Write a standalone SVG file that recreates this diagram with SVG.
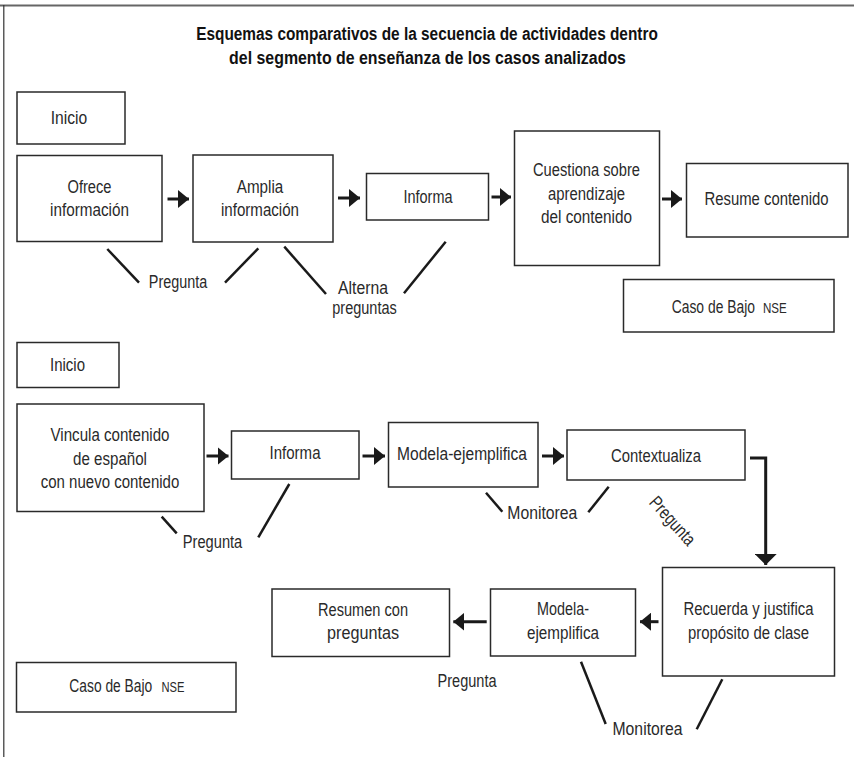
<svg xmlns="http://www.w3.org/2000/svg" width="854" height="757" viewBox="0 0 854 757">
<style>
text{font-family:"Liberation Sans",Arial,sans-serif;font-size:18.5px;fill:#2a2a2a;text-anchor:middle}
.title{font-weight:bold;font-size:18.5px;fill:#111}
.st{text-anchor:start}
.box{fill:#fff;stroke:#2a2a2a;stroke-width:1.5}
.arrow{stroke:#1a1a1a;stroke-width:3;fill:none}
.tie{stroke:#1a1a1a;stroke-width:2.5;fill:none}
.sc{font-size:14.5px;text-anchor:start}
</style>
<defs>
<marker id="ah" markerUnits="userSpaceOnUse" markerWidth="12" markerHeight="18" refX="11" refY="9" orient="auto">
<path d="M0,0 L11,9 L0,18 z" fill="#1a1a1a"/>
</marker>
<marker id="ahd" markerUnits="userSpaceOnUse" markerWidth="12" markerHeight="22" refX="11" refY="11" orient="auto">
<path d="M0,0 L11,11 L0,22 z" fill="#1a1a1a"/>
</marker>
</defs>
<rect width="854" height="757" fill="#fff"/>
<line x1="0" y1="5.5" x2="854" y2="5.5" stroke="#666" stroke-width="2"/>
<line x1="3.8" y1="5" x2="3.8" y2="757" stroke="#333" stroke-width="1.2"/>
<text class="title" transform="translate(427,39.5) scale(.82,1)" textLength="563" lengthAdjust="spacingAndGlyphs">Esquemas comparativos de la secuencia de actividades dentro</text>
<text class="title" transform="translate(427.5,63.5) scale(.82,1)" textLength="484" lengthAdjust="spacingAndGlyphs">del segmento de enseñanza de los casos analizados</text>

<g id="inicio1"><rect class="box" x="17" y="92" width="108" height="52"/><text transform="translate(69,124) scale(.82,1)" textLength="44.5" lengthAdjust="spacingAndGlyphs">Inicio</text></g>
<g id="ofrece"><rect class="box" x="17" y="155.5" width="145" height="86"/><text transform="translate(89.5,193) scale(.82,1)" textLength="53.7" lengthAdjust="spacingAndGlyphs">Ofrece</text><text transform="translate(89.5,216) scale(.82,1)" textLength="96.3" lengthAdjust="spacingAndGlyphs">información</text></g>
<g id="amplia"><rect class="box" x="193" y="155" width="140" height="87"/><text transform="translate(260,193) scale(.82,1)" textLength="56.7" lengthAdjust="spacingAndGlyphs">Amplia</text><text transform="translate(260,216) scale(.82,1)" textLength="95.1" lengthAdjust="spacingAndGlyphs">información</text></g>
<g id="informa1"><rect class="box" x="366.5" y="173.5" width="122" height="46.5"/><text transform="translate(428,203) scale(.82,1)" textLength="59.8" lengthAdjust="spacingAndGlyphs">Informa</text></g>
<g id="cuestiona"><rect class="box" x="514.5" y="131" width="145" height="134.5"/><text transform="translate(586.5,176) scale(.82,1)" textLength="130.5" lengthAdjust="spacingAndGlyphs">Cuestiona sobre</text><text transform="translate(586.5,199.5) scale(.82,1)" textLength="93.9" lengthAdjust="spacingAndGlyphs">aprendizaje</text><text transform="translate(586.5,223) scale(.82,1)" textLength="111" lengthAdjust="spacingAndGlyphs">del contenido</text></g>
<g id="resume"><rect class="box" x="686.5" y="163.5" width="161.5" height="73.5"/><text transform="translate(766.5,205) scale(.82,1)" textLength="151.2" lengthAdjust="spacingAndGlyphs">Resume contenido</text></g>
<g id="caso1"><rect class="box" x="623.5" y="279.5" width="210.5" height="52.5"/><text class="st" transform="translate(671.7,313) scale(.82,1)" textLength="101.6" lengthAdjust="spacingAndGlyphs">Caso de Bajo</text><text class="sc" transform="translate(763,313) scale(.82,1)" textLength="29" lengthAdjust="spacingAndGlyphs">NSE</text></g>

<g id="inicio2"><rect class="box" x="17" y="342.5" width="102" height="45"/><text transform="translate(67.5,371) scale(.82,1)" textLength="42.7" lengthAdjust="spacingAndGlyphs">Inicio</text></g>
<g id="vincula"><rect class="box" x="17" y="404" width="187" height="107.5"/><text transform="translate(110,441) scale(.82,1)" textLength="145.1" lengthAdjust="spacingAndGlyphs">Vincula contenido</text><text transform="translate(110,464.5) scale(.82,1)" textLength="90.2" lengthAdjust="spacingAndGlyphs">de español</text><text transform="translate(110,488) scale(.82,1)" textLength="168.9" lengthAdjust="spacingAndGlyphs">con nuevo contenido</text></g>
<g id="informa2"><rect class="box" x="231.5" y="431" width="127.5" height="48"/><text transform="translate(295,459) scale(.82,1)" textLength="62.2" lengthAdjust="spacingAndGlyphs">Informa</text></g>
<g id="modela1"><rect class="box" x="388.5" y="422.5" width="149.5" height="64.5"/><text transform="translate(462,459.5) scale(.82,1)" textLength="158.5" lengthAdjust="spacingAndGlyphs">Modela-ejemplifica</text></g>
<g id="contextualiza"><rect class="box" x="567" y="430" width="178" height="50"/><text transform="translate(656,461.5) scale(.82,1)" textLength="109.8" lengthAdjust="spacingAndGlyphs">Contextualiza</text></g>
<g id="recuerda"><rect class="box" x="662.5" y="567.5" width="172" height="108.5"/><text transform="translate(748.5,615) scale(.82,1)" textLength="158.5" lengthAdjust="spacingAndGlyphs">Recuerda y justifica</text><text transform="translate(748.5,638.5) scale(.82,1)" textLength="147.6" lengthAdjust="spacingAndGlyphs">propósito de clase</text></g>
<g id="modela2"><rect class="box" x="490.5" y="589" width="145" height="67"/><text transform="translate(563,615) scale(.82,1)" textLength="63.4" lengthAdjust="spacingAndGlyphs">Modela-</text><text transform="translate(563,638.5) scale(.82,1)" textLength="87.8" lengthAdjust="spacingAndGlyphs">ejemplifica</text></g>
<g id="resumen"><rect class="box" x="272" y="589" width="177.5" height="67.5"/><text transform="translate(363,616) scale(.82,1)" textLength="109.8" lengthAdjust="spacingAndGlyphs">Resumen con</text><text transform="translate(363,638.5) scale(.82,1)" textLength="87.8" lengthAdjust="spacingAndGlyphs">preguntas</text></g>
<g id="caso2"><rect class="box" x="16.5" y="662.5" width="219.5" height="49.5"/><text class="st" transform="translate(69.3,692) scale(.82,1)" textLength="101.2" lengthAdjust="spacingAndGlyphs">Caso de Bajo</text><text class="sc" transform="translate(161.5,692) scale(.82,1)" textLength="28" lengthAdjust="spacingAndGlyphs">NSE</text></g>

<g id="connectors">
<line class="arrow" x1="167.5" y1="199" x2="189" y2="199" marker-end="url(#ah)"/>
<line class="arrow" x1="338" y1="198" x2="360" y2="198" marker-end="url(#ah)"/>
<line class="arrow" x1="491.5" y1="197" x2="511" y2="197" marker-end="url(#ah)"/>
<line class="arrow" x1="662" y1="199" x2="682" y2="199" marker-end="url(#ah)"/>
<line class="arrow" x1="206.5" y1="456" x2="228.5" y2="456" marker-end="url(#ah)"/>
<line class="arrow" x1="362.5" y1="456" x2="385" y2="456" marker-end="url(#ah)"/>
<line class="arrow" x1="542" y1="456" x2="564" y2="456" marker-end="url(#ah)"/>
<polyline class="arrow" points="750,458 765.7,458 765.7,565" marker-end="url(#ahd)"/>
<line class="arrow" x1="658.5" y1="621.7" x2="640" y2="621.7" marker-end="url(#ah)"/>
<line class="arrow" x1="486.7" y1="621.7" x2="453.3" y2="621.7" marker-end="url(#ah)"/>

<line class="tie" x1="107.3" y1="249" x2="139" y2="282.7"/>
<line class="tie" x1="225" y1="282.7" x2="258.3" y2="248.3"/>
<line class="tie" x1="284.3" y1="246.7" x2="326" y2="294"/>
<line class="tie" x1="404" y1="293.3" x2="445.7" y2="241.7"/>
<line class="tie" x1="161.7" y1="516.7" x2="176.7" y2="533.3"/>
<line class="tie" x1="289.3" y1="484" x2="258.3" y2="537.3"/>
<line class="tie" x1="486" y1="492.7" x2="502.3" y2="511.7"/>
<line class="tie" x1="588.3" y1="512.3" x2="608.7" y2="486.7"/>
<line class="tie" x1="581" y1="661.7" x2="605.7" y2="724"/>
<line class="tie" x1="722.3" y1="679.3" x2="696.7" y2="729.3"/>
</g>
<g id="labels">
<text transform="translate(178,287.5) scale(.82,1)" textLength="71.3" lengthAdjust="spacingAndGlyphs">Pregunta</text>
<text transform="translate(363,294) scale(.82,1)" textLength="61" lengthAdjust="spacingAndGlyphs">Alterna</text>
<text transform="translate(364.5,314) scale(.82,1)" textLength="78.7" lengthAdjust="spacingAndGlyphs">preguntas</text>
<text transform="translate(212.5,548) scale(.82,1)" textLength="72.6" lengthAdjust="spacingAndGlyphs">Pregunta</text>
<text transform="translate(542.3,519) scale(.82,1)" textLength="85.4" lengthAdjust="spacingAndGlyphs">Monitorea</text>
<text transform="translate(668,525) rotate(48) scale(.82,1)" textLength="72" lengthAdjust="spacingAndGlyphs">Pregunta</text>
<text transform="translate(467,687) scale(.82,1)" textLength="72" lengthAdjust="spacingAndGlyphs">Pregunta</text>
<text transform="translate(647.5,735) scale(.82,1)" textLength="85.4" lengthAdjust="spacingAndGlyphs">Monitorea</text>
</g>
</svg>
